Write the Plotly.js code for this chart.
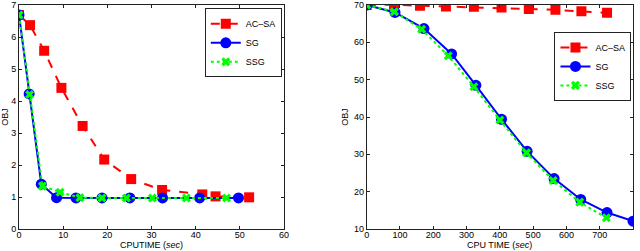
<!DOCTYPE html>
<html><head><meta charset="utf-8">
<script src="https://cdn.plot.ly/plotly-3.0.1.min.js"></script>
<style>body{margin:0;padding:0;background:#fff}#chart{width:640px;height:251px}</style>
</head><body><div id="chart"></div>
<script>
// Left panel
const leftAcsaX = [0, 2.5, 5.7, 9.6, 14.4, 19.3, 25.4, 32.4, 41.5, 44.5, 52.1];
const leftAcsaY = [6.69, 6.37, 5.57, 4.41, 3.22, 2.17, 1.56, 1.22, 1.08, 1.02, 0.99];
const leftSgX = [0, 2.3, 5.05, 8.5, 12.9, 18.8, 25.1, 32.5, 40.9, 49.7];
const leftSgY = [6.69, 4.22, 1.40, 0.98, 0.97, 0.97, 0.97, 0.97, 0.97, 0.97];
const leftSsgX = [0, 2.4, 5.3, 9.3, 13.8, 18.8, 24.3, 30.2, 37.9, 47.0];
const leftSsgY = [6.69, 4.20, 1.34, 1.15, 0.98, 0.97, 0.97, 0.97, 0.97, 0.97];
// Right panel
const rightAcsaX = [0, 82, 160, 238, 322, 405, 487, 567, 645, 722];
const rightAcsaY = [70.0, 70.1, 69.8, 69.6, 69.5, 69.3, 68.9, 68.7, 68.3, 67.9];
const rightSgX = [0, 85, 172, 255, 328, 405, 482, 563, 643, 722, 800];
const rightSgY = [70.0, 68.0, 63.7, 56.9, 48.5, 39.4, 30.8, 23.5, 17.9, 14.4, 12.1];
const rightSsgX = [0, 83, 165, 245, 322, 400, 480, 560, 640, 720];
const rightSsgY = [70.0, 68.2, 63.5, 56.4, 48.1, 39.2, 30.4, 23.0, 17.2, 13.0];
const seriesNames = ['AC\u2013SA', 'SG', 'SSG'];
const xTitles = ['CPUTIME (<i>sec</i>)', 'CPU TIME (<i>sec</i>)'];
const yTitle = 'OBJ';

const red = '#ff0000', blue = '#0000ff', green = '#00ff00';
const FONT = 'Liberation Sans, Arial, sans-serif';
function acsa(x, y, xa, ya, lg) {
  return {x, y, xaxis: xa, yaxis: ya, name: seriesNames[0], mode: 'lines+markers', legend: lg,
    line: {color: red, width: 2, dash: 'dash'}, marker: {symbol: 'square', size: 10, color: red}};
}
function sg(x, y, xa, ya, lg) {
  return {x, y, xaxis: xa, yaxis: ya, name: seriesNames[1], mode: 'lines+markers', legend: lg,
    line: {color: blue, width: 2}, marker: {symbol: 'circle', size: 11, color: blue}};
}
function ssg(x, y, xa, ya, lg) {
  return {x, y, xaxis: xa, yaxis: ya, name: seriesNames[2], mode: 'lines+markers', legend: lg,
    line: {color: green, width: 2, dash: 'dot'}, marker: {symbol: 'x', size: 8, color: green}};
}
const traces = [
  acsa(leftAcsaX, leftAcsaY, 'x', 'y', 'legend'),
  sg(leftSgX, leftSgY, 'x', 'y', 'legend'),
  ssg(leftSsgX, leftSsgY, 'x', 'y', 'legend'),
  acsa(rightAcsaX, rightAcsaY, 'x2', 'y2', 'legend2'),
  sg(rightSgX, rightSgY, 'x2', 'y2', 'legend2'),
  ssg(rightSsgX, rightSsgY, 'x2', 'y2', 'legend2')
];

const tf = {family: FONT, size: 9, color: '#000'};
const axBase = {showline: true, linecolor: '#222', linewidth: 1, mirror: 'ticks', ticks: 'inside', ticklen: 3,
  tickcolor: '#222', showgrid: false, zeroline: false, tickfont: tf};
const legBase = {bgcolor: '#fff', bordercolor: '#222', borderwidth: 1, font: {family: FONT, size: 9, color: '#000'},
  tracegroupgap: 0, itemwidth: 30, xanchor: 'right', yanchor: 'top'};

const layout = {
  width: 640, height: 251, paper_bgcolor: '#fff', plot_bgcolor: '#fff',
  margin: {l: 19, r: 7, t: 5, b: 22},
  xaxis: Object.assign({}, axBase, {domain: [0, 0.4316], range: [0, 60], dtick: 10, anchor: 'y', ticklabelstandoff: -3}),
  yaxis: Object.assign({}, axBase, {domain: [0, 1], range: [0, 7], dtick: 1, anchor: 'x',
    title: {text: yTitle, font: {family: FONT, size: 9, color: '#000'}, standoff: 3}}),
  xaxis2: Object.assign({}, axBase, {domain: [0.5663, 1], range: [0, 800], dtick: 100, anchor: 'y2', ticklabelstandoff: -3}),
  yaxis2: Object.assign({}, axBase, {domain: [0, 1], range: [10, 70], dtick: 10, anchor: 'x2',
    title: {text: yTitle, font: {family: FONT, size: 9, color: '#000'}, standoff: 3}}),
  legend: Object.assign({}, legBase, {x: 0.428, y: 0.985}),
  legend2: Object.assign({}, legBase, {x: 0.9975, y: 0.88}),
  annotations: [
    {text: xTitles[0], xref: 'x domain', yref: 'y domain', x: 0.5, y: 0, xanchor: 'center', yanchor: 'top', yshift: -10,
      showarrow: false, borderpad: 0, font: {family: FONT, size: 9, color: '#000'}},
    {text: xTitles[1], xref: 'x2 domain', yref: 'y2 domain', x: 0.5, y: 0, xanchor: 'center', yanchor: 'top', yshift: -10,
      showarrow: false, borderpad: 0, font: {family: FONT, size: 9, color: '#000'}}
  ],
  showlegend: true
};
Plotly.newPlot('chart', traces, layout, {displayModeBar: false, staticPlot: true});
</script></body></html>
